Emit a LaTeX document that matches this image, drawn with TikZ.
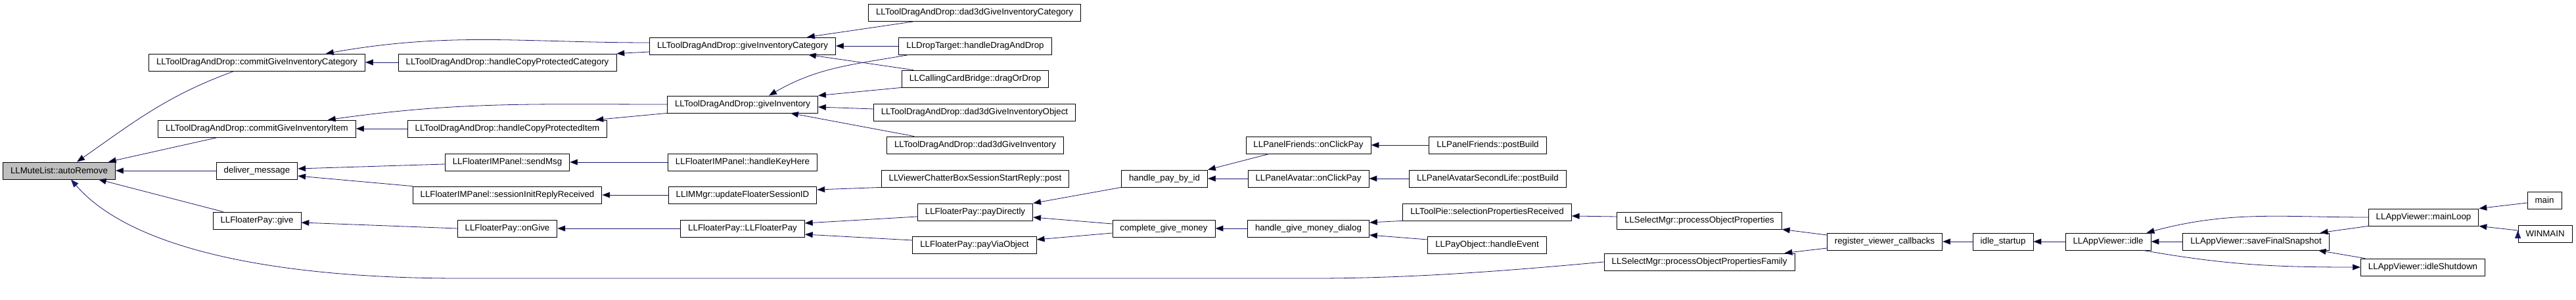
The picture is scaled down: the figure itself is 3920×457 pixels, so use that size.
\documentclass[tikz,border=0pt]{standalone}
\usepackage{fontspec}
\setmainfont{Liberation Sans}
\usetikzlibrary{arrows.meta}
\definecolor{edgeblue}{RGB}{25,25,112}
\tikzset{
fn/.style={draw, line width=0.8bp, inner xsep=11.5bp, inner ysep=0pt, minimum height=26bp, font=\fontsize{13.35}{16}\selectfont}, % one function box
cur/.style={fn, fill=black!25}, % the function the graph is about
call/.style={draw=edgeblue, line width=0.8bp, -{Triangle[length=12bp,width=9bp]}}, % caller to callee
}
\begin{document}
\begin{tikzpicture}[x=1bp, y=-1bp]
\useasboundingbox (0,0) rectangle (3920,457);
% columns, left to right
\node[cur] (ar) at (90,260) {LLMuteList::autoRemove};
\node[fn] (cgic) at (391,95) {LLToolDragAndDrop::commitGiveInventoryCategory};
\node[fn] (cgii) at (391,196) {LLToolDragAndDrop::commitGiveInventoryItem};
\node[fn] (dm) at (391,260) {deliver\_message};
\node[fn] (fpg) at (391,336) {LLFloaterPay::give};
\node[fn] (hcpc) at (772,95) {LLToolDragAndDrop::handleCopyProtectedCategory};
\node[fn] (hcpi) at (772,196) {LLToolDragAndDrop::handleCopyProtectedItem};
\node[fn] (sm) at (772,247) {LLFloaterIMPanel::sendMsg};
\node[fn] (sirr) at (772,297) {LLFloaterIMPanel::sessionInitReplyReceived};
\node[fn] (og) at (772,348) {LLFloaterPay::onGive};
\node[fn] (gic) at (1130,70) {LLToolDragAndDrop::giveInventoryCategory};
\node[fn] (gi) at (1130,159) {LLToolDragAndDrop::giveInventory};
\node[fn] (hkh) at (1130,247) {LLFloaterIMPanel::handleKeyHere};
\node[fn] (ufs) at (1130,297) {LLIMMgr::updateFloaterSessionID};
\node[fn] (fp) at (1130,348) {LLFloaterPay::LLFloaterPay};
\node[fn] (ddgic) at (1483,19) {LLToolDragAndDrop::dad3dGiveInventoryCategory};
\node[fn] (hdd) at (1484,70) {LLDropTarget::handleDragAndDrop};
\node[fn] (ccb) at (1484,120) {LLCallingCardBridge::dragOrDrop};
\node[fn] (ddgio) at (1483,171) {LLToolDragAndDrop::dad3dGiveInventoryObject};
\node[fn] (ddgi) at (1484,221) {LLToolDragAndDrop::dad3dGiveInventory};
\node[fn] (csr) at (1484,272) {LLViewerChatterBoxSessionStartReply::post};
\node[fn] (pd) at (1484,323) {LLFloaterPay::payDirectly};
\node[fn] (pvo) at (1483,373) {LLFloaterPay::payViaObject};
\node[fn] (hpid) at (1772,272) {handle\_pay\_by\_id};
\node[fn] (cgm) at (1771,348) {complete\_give\_money};
\node[fn] (pfocp) at (1991,221) {LLPanelFriends::onClickPay};
\node[fn] (pacp) at (1991,272) {LLPanelAvatar::onClickPay};
\node[fn] (hgmd) at (1991,348) {handle\_give\_money\_dialog};
\node[fn] (pfpb) at (2264,221) {LLPanelFriends::postBuild};
\node[fn] (paslpb) at (2264,272) {LLPanelAvatarSecondLife::postBuild};
\node[fn] (tpspr) at (2263,323) {LLToolPie::selectionPropertiesReceived};
\node[fn] (pohe) at (2263,373) {LLPayObject::handleEvent};
\node[fn] (smpop) at (2586,336) {LLSelectMgr::processObjectProperties};
\node[fn] (smpopf) at (2586,399) {LLSelectMgr::processObjectPropertiesFamily};
\node[fn] (rvc) at (2868,368) {register\_viewer\_callbacks};
\node[fn] (is) at (3048,368) {idle\_startup};
\node[fn] (avi) at (3208,368) {LLAppViewer::idle};
\node[fn] (avsfs) at (3433,368) {LLAppViewer::saveFinalSnapshot};
\node[fn] (avml) at (3688,331) {LLAppViewer::mainLoop};
\node[fn] (avis) at (3687,407) {LLAppViewer::idleShutdown};
\node[fn] (main) at (3872,305) {main};
\node[fn] (winmain) at (3873,356) {WINMAIN};
% calls
\draw[call]
([xshift=130bp]cgic.south west) edge[out=200,in=35] ([xshift=27bp]ar.north)
([xshift=91bp]cgii.south west) edge ([xshift=-11bp]ar.north east)
(dm.west) edge (ar.east)
([xshift=16bp]fpg.north west) edge ([xshift=-26bp]ar.south east)
([yshift=5bp]gic.west) edge[out=180,in=10] ([xshift=-60bp]cgic.north east)
([yshift=-9bp]gic.west) edge (hcpc.north east)
(hcpc.west) edge (cgic.east)
(gi.west) edge[out=180,in=8] ([xshift=-43bp]cgii.north east)
(gi.south west) edge ([xshift=-18bp]hcpi.north east)
(hcpi.west) edge (cgii.east)
([yshift=-3bp]sm.west) edge ([yshift=3bp]dm.east)
(sirr.north west) edge ([yshift=-8bp]dm.east)
(og.west) edge ([yshift=-3bp]fpg.east)
(hkh.west) edge (sm.east)
(ufs.west) edge (sirr.east)
(fp.west) edge (og.east)
([xshift=72bp]ddgic.south west) edge ([xshift=-44bp]gic.north east)
(hdd.west) edge (gic.east)
([xshift=18bp]ccb.north west) edge ([xshift=-42bp]gic.south east)
([xshift=16bp]hdd.south west) edge[out=190,in=30] ([xshift=40bp]gi.north)
(ccb.south west) edge (gi.north east)
([yshift=5bp]ddgio.west) edge ([yshift=-4bp]gi.east)
([xshift=42bp]ddgi.north west) edge ([xshift=-42bp]gi.south east)
(csr.south west) edge ([yshift=8bp]ufs.east)
([yshift=-7bp]pd.west) edge ([yshift=8bp]fp.east)
([yshift=7bp]pvo.west) edge ([yshift=-9bp]fp.east)
(hpid.south west) edge (pd.north east)
([yshift=7bp]cgm.west) edge ([yshift=-8bp]pd.east)
([yshift=-7bp]cgm.west) edge ([yshift=8bp]pvo.east)
([xshift=36bp]pfocp.south west) edge (hpid.north east)
(pacp.west) edge (hpid.east)
(hgmd.west) edge (cgm.east)
(pfpb.west) edge (pfocp.east)
(paslpb.west) edge (pacp.east)
(tpspr.south west) edge ([yshift=9bp]hgmd.east)
([yshift=8bp]pohe.west) edge ([yshift=-10bp]hgmd.east)
([yshift=6bp]smpop.west) edge ([yshift=-6bp]tpspr.east)
([yshift=10bp]rvc.west) edge (smpop.south east)
([yshift=-10bp]rvc.west) edge ([xshift=-16bp]smpopf.north east)
(is.west) edge (rvc.east)
(avi.west) edge (is.east)
(avsfs.west) edge (avi.east)
(avml.west) edge[out=180,in=15] ([xshift=-7bp]avi.north east)
(avml.south west) edge ([xshift=-14bp]avsfs.north east)
([xshift=7bp]avis.north west) edge ([xshift=-17bp]avsfs.south east)
([xshift=-12bp]avi.south east) edge[out=-10,in=180] (avis.west)
([yshift=-4bp]main.west) edge (avml.north east)
([yshift=5bp]winmain.west) edge (avml.south east);
% the long one along the bottom
\draw[call] (smpopf.west) .. controls (2300,412) and (2150,424) .. (2000,424) -- (700,424) .. controls (420,424) and (200,380) .. ([xshift=18bp]ar.south);
\end{tikzpicture}
\end{document}
